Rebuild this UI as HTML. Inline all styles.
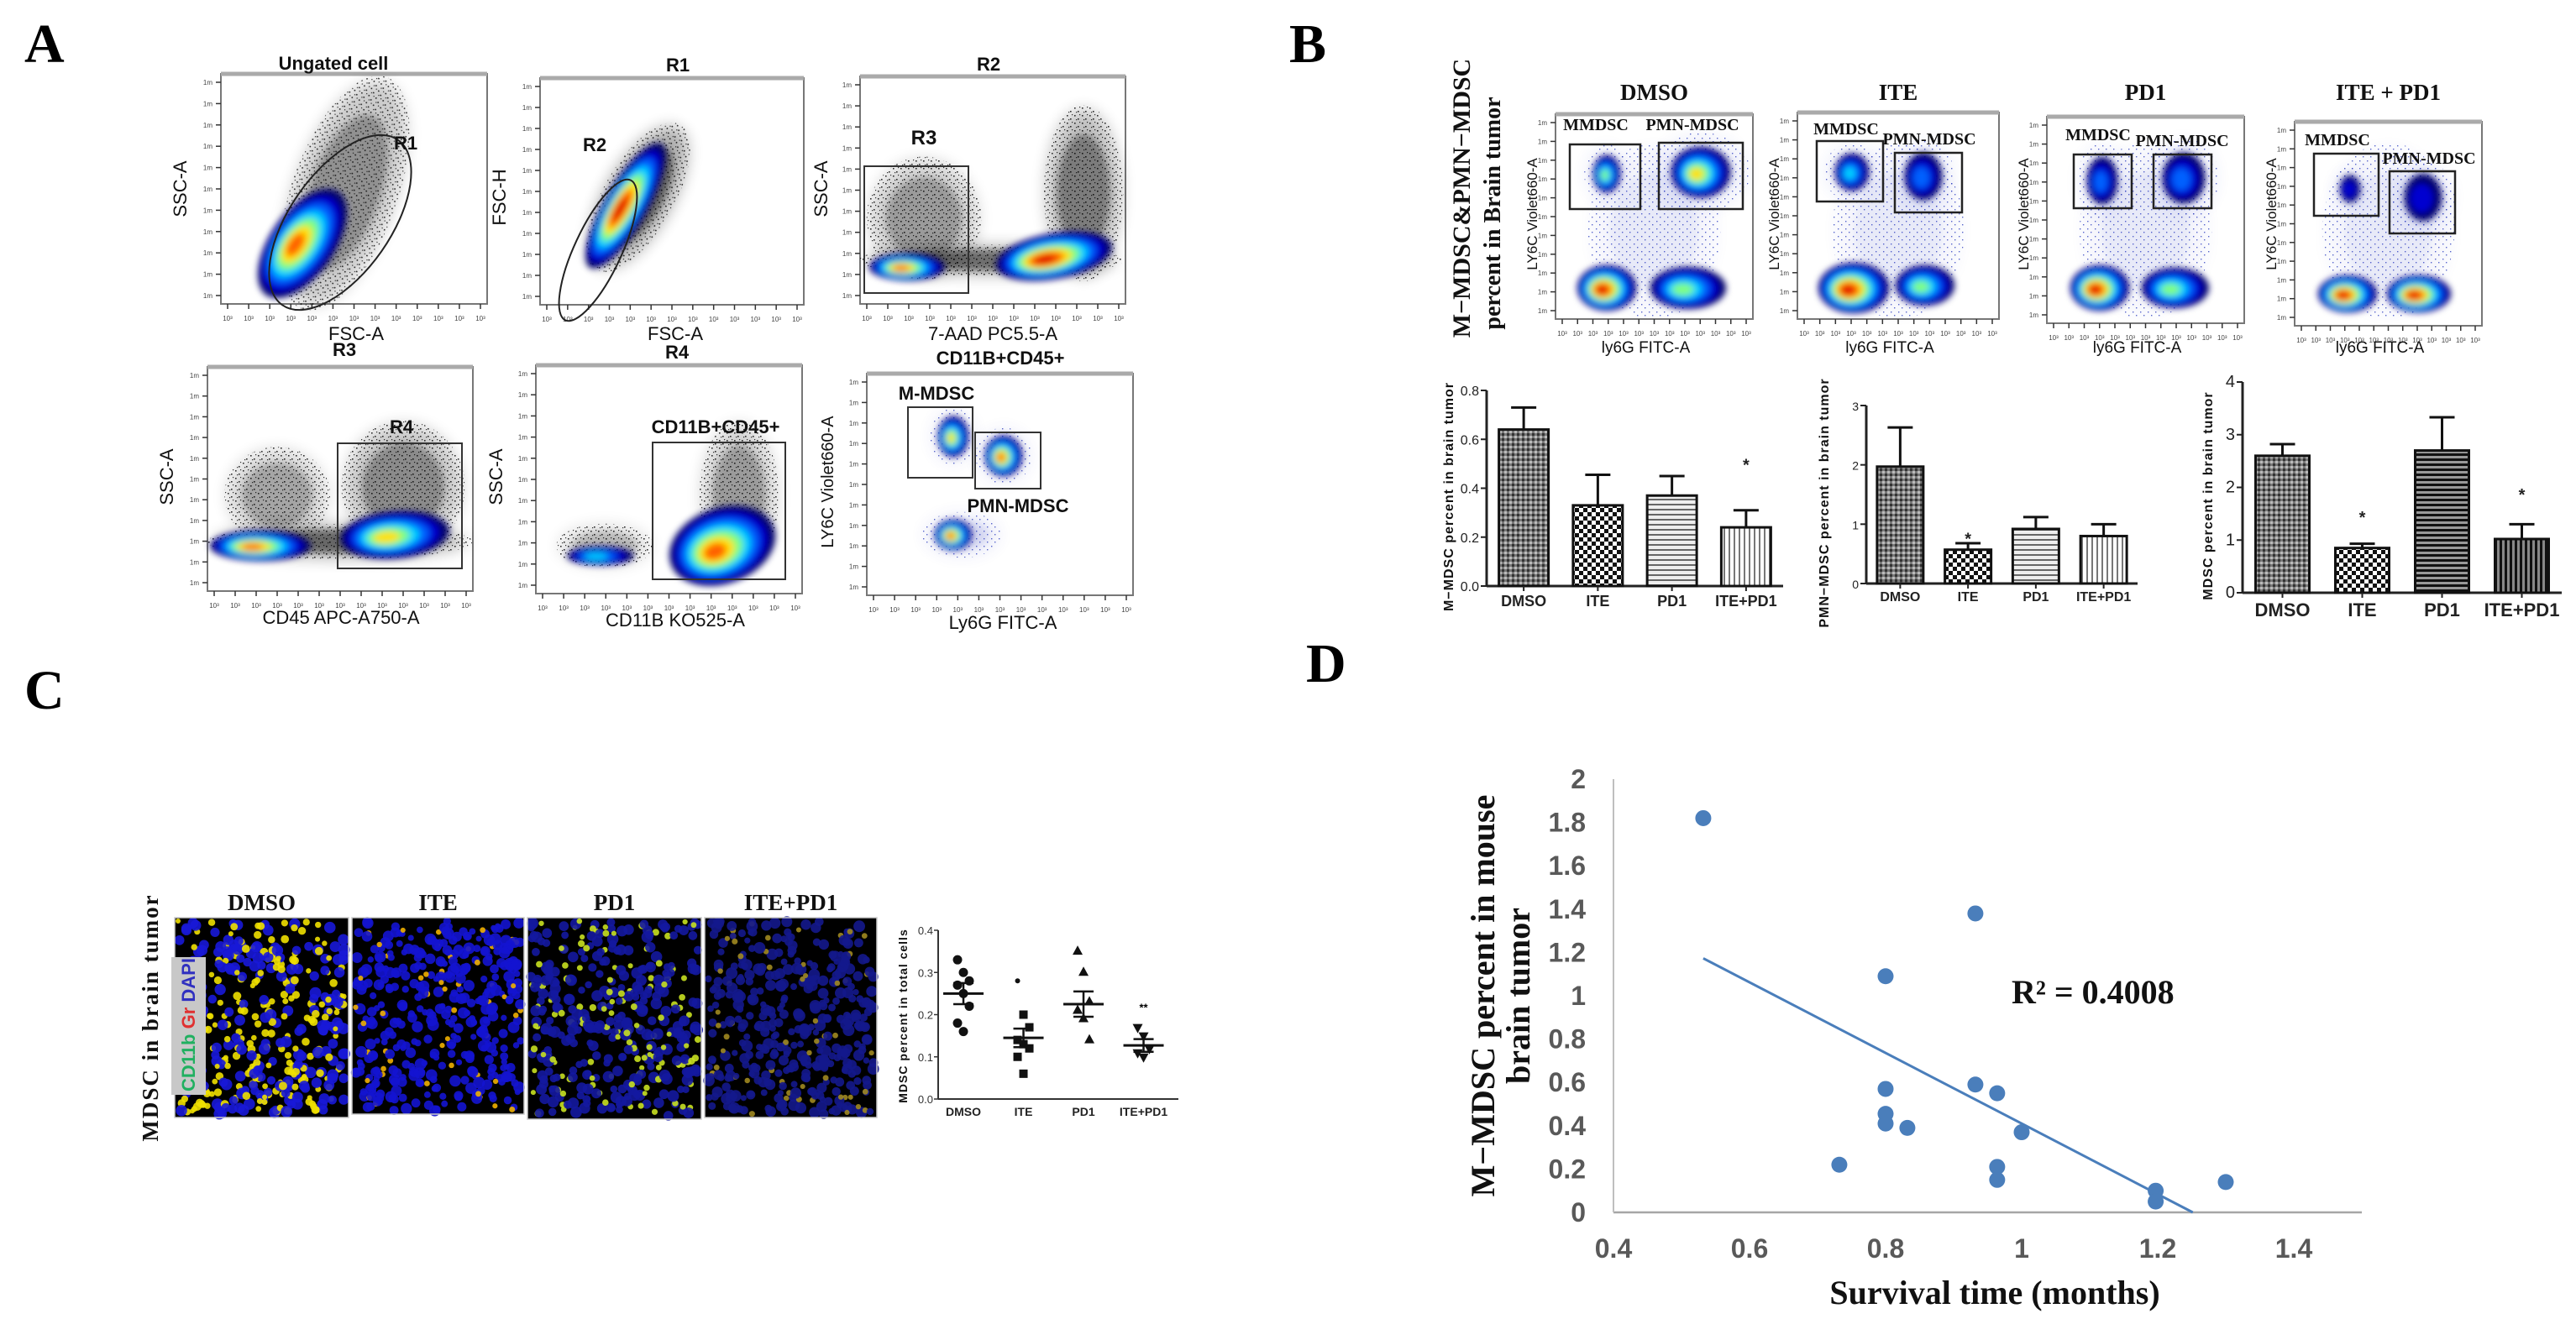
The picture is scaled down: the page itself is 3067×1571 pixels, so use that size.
<!DOCTYPE html>
<html><head><meta charset="utf-8"><title>MDSC figure</title>
<style>
html,body{margin:0;padding:0;background:#fff;}
svg{display:block;}
.pl{font-family:"Liberation Serif",serif;font-weight:bold;}
.sn{font-family:"Liberation Sans Narrow","Liberation Sans",sans-serif;}
.sb{font-family:"Liberation Sans",sans-serif;font-weight:bold;}
</style></head>
<body>
<svg id="fig" width="3067" height="1571" viewBox="0 0 3067 1571" xmlns="http://www.w3.org/2000/svg">
<defs>
<filter id="bl" x="-50%" y="-50%" width="200%" height="200%"><feGaussianBlur stdDeviation="4"/></filter>
<filter id="bl2" x="-50%" y="-50%" width="200%" height="200%"><feGaussianBlur stdDeviation="9"/></filter>
<pattern id="speck" width="9" height="9" patternUnits="userSpaceOnUse"><rect x="1" y="2" width="1.6" height="1.6" fill="#000"/><rect x="5" y="6" width="1.6" height="1.6" fill="#000"/><rect x="7" y="1" width="1.2" height="1.2" fill="#000"/><rect x="3" y="7" width="1.2" height="1.2" fill="#000"/></pattern>
<pattern id="speckB" width="9" height="9" patternUnits="userSpaceOnUse"><rect x="1" y="2" width="1.4" height="1.4" fill="#3040c0"/><rect x="5" y="6" width="1.4" height="1.4" fill="#3040c0"/></pattern>
<pattern id="pDense" width="6" height="6" patternUnits="userSpaceOnUse"><rect width="6" height="6" fill="#777"/><rect x="0" y="0" width="3" height="3" fill="#333"/><rect x="3" y="3" width="3" height="3" fill="#bbb"/></pattern>
<pattern id="pCheck" width="10" height="10" patternUnits="userSpaceOnUse"><rect width="10" height="10" fill="#fff"/><rect width="5" height="5" fill="#111"/><rect x="5" y="5" width="5" height="5" fill="#111"/></pattern>
<pattern id="pHor" width="8" height="6" patternUnits="userSpaceOnUse"><rect width="8" height="6" fill="#eee"/><rect y="0" width="8" height="2" fill="#666"/></pattern>
<pattern id="pHorD" width="8" height="6" patternUnits="userSpaceOnUse"><rect width="8" height="6" fill="#999"/><rect y="0" width="8" height="3" fill="#111"/></pattern>
<pattern id="pVer" width="6" height="8" patternUnits="userSpaceOnUse"><rect width="6" height="8" fill="#fff"/><rect x="0" width="2" height="8" fill="#777"/></pattern>
<pattern id="pVerD" width="6" height="8" patternUnits="userSpaceOnUse"><rect width="6" height="8" fill="#888"/><rect x="0" width="3" height="8" fill="#111"/></pattern>
</defs>

<text class="pl" x="29" y="74" font-size="66">A</text>
<text class="pl" x="1535" y="74" font-size="66">B</text>
<text class="pl" x="29" y="844" font-size="66">C</text>
<text class="pl" x="1555" y="812" font-size="66">D</text>

<g id="panelA"></g>
<g id="panelBflow"></g>
<g id="panelBbars"></g>
<g id="panelC"></g>
<g id="panelD"></g>
</svg>

<script>
// ===== Panel B bar chart data =====
var barCategories = ["DMSO", "ITE", "PD1", "ITE+PD1"];
var mmdscValues = [0.64, 0.33, 0.37, 0.24];
var mmdscErrors = [0.73, 0.455, 0.45, 0.31];
var mmdscTicks = ["0.0", "0.2", "0.4", "0.6", "0.8"];
var pmnValues = [1.97, 0.57, 0.92, 0.80];
var pmnErrors = [2.63, 0.68, 1.12, 1.00];
var pmnTicks = ["0", "1", "2", "3"];
var mdscValues = [2.60, 0.85, 2.70, 1.02];
var mdscErrors = [2.82, 0.93, 3.33, 1.30];
var mdscTicks = ["0", "1", "2", "3", "4"];
// ===== Panel C scatter data =====
var cGroups = ["DMSO", "ITE", "PD1", "ITE+PD1"];
var cDmso = [0.33, 0.30, 0.28, 0.27, 0.25, 0.22, 0.18, 0.16];
var cIte = [0.28, 0.20, 0.17, 0.14, 0.13, 0.12, 0.10, 0.06];
var cPd1 = [0.35, 0.30, 0.23, 0.21, 0.19, 0.14];
var cItePd1 = [0.17, 0.15, 0.12, 0.11, 0.10];
var cMeans = [0.25, 0.145, 0.225, 0.127];
var cSems = [0.025, 0.022, 0.03, 0.015];
var cTicks = ["0.0", "0.1", "0.2", "0.3", "0.4"];
// ===== Panel D scatter data =====
var survivalMonths = [0.532, 0.80, 0.932, 0.80, 0.80, 0.80, 0.832, 0.732, 0.932, 0.964, 1.00, 0.964, 0.964, 1.197, 1.197, 1.30];
var mmdscPercent = [1.82, 1.09, 1.38, 0.57, 0.455, 0.41, 0.39, 0.22, 0.59, 0.55, 0.37, 0.21, 0.15, 0.10, 0.05, 0.14];
var dXTicks = ["0.4", "0.6", "0.8", "1", "1.2", "1.4"];
var dYTicks = ["0", "0.2", "0.4", "0.6", "0.8", "1", "1.2", "1.4", "1.6", "1.8", "2"];
var trendSlope = -1.63;
var trendIntercept = 2.04;

var NS = "http://www.w3.org/2000/svg";
function mk(parent, tag, attrs, txt) {
  var e = document.createElementNS(NS, tag);
  for (var k in attrs) e.setAttribute(k, attrs[k]);
  if (txt !== undefined) e.textContent = txt;
  parent.appendChild(e);
  return e;
}

var jet = ["#00006a", "#0000d0", "#0060ff", "#00d0ff", "#80ff80", "#ffe000", "#ff6000", "#e00000"];
function blob(g, cx, cy, rx, ry, rot, levels) {
  var gg = mk(g, "g", {transform: "rotate(" + rot + " " + cx + " " + cy + ")", filter: "url(#bl)"});
  for (var i = 0; i < levels; i++) {
    var f = 1 - i / (levels + 0.6);
    mk(gg, "ellipse", {cx: cx - (1 - f) * rx * 0.2, cy: cy + (1 - f) * ry * 0.1, rx: rx * f, ry: ry * f, fill: jet[i]});
  }
}
function cloud(g, cx, cy, rx, ry, rot, col, op) {
  var tr = "rotate(" + rot + " " + cx + " " + cy + ")";
  mk(g, "ellipse", {cx: cx, cy: cy, rx: rx, ry: ry, fill: col, opacity: op * 0.35, filter: "url(#bl2)", transform: tr});
  mk(g, "ellipse", {cx: cx, cy: cy, rx: rx * 1.05, ry: ry * 1.05, fill: col === "#000" || col === "#111" ? "url(#speck)" : "url(#speckB)", opacity: 0.8, transform: tr});
  mk(g, "ellipse", {cx: cx, cy: cy, rx: rx * 0.7, ry: ry * 0.7, fill: col, opacity: op * 0.5, filter: "url(#bl)", transform: tr});
}
function plotBox(g, x0, y0, x1, y1) {
  mk(g, "rect", {x: x0, y: y0, width: x1 - x0, height: y1 - y0, fill: "#fff", stroke: "#777", "stroke-width": 2});
  mk(g, "line", {x1: x0, y1: y0, x2: x1, y2: y0, stroke: "#aaa", "stroke-width": 5});
  for (var i = 0; i <= 12; i++) {
    var xx = x0 + 8 + i * (x1 - x0 - 16) / 12;
    mk(g, "line", {x1: xx, y1: y1, x2: xx, y2: y1 + 6, stroke: "#333", "stroke-width": 1.5});
    mk(g, "text", {x: xx, y: y1 + 20, "font-size": 8, "text-anchor": "middle", fill: "#444", "class": "sn"}, "10³");
  }
  for (var j = 0; j <= 10; j++) {
    var yy = y0 + 10 + j * (y1 - y0 - 20) / 10;
    mk(g, "line", {x1: x0 - 6, y1: yy, x2: x0, y2: yy, stroke: "#333", "stroke-width": 1.5});
    mk(g, "text", {x: x0 - 10, y: yy + 3, "font-size": 8, "text-anchor": "end", fill: "#444", "class": "sn"}, "1m");
  }
}
function lbl(g, x, y, s, size, cls, rot, anchor) {
  var a = {x: x, y: y, "font-size": size, "text-anchor": anchor || "middle", "class": cls, fill: "#111"};
  if (rot) a.transform = "rotate(" + rot + " " + x + " " + y + ")";
  return mk(g, "text", a, s);
}

// ---------- Panel A ----------
var A = document.getElementById("panelA");
var p1 = mk(A, "g", {});


plotBox(p1, 263, 88, 580, 362);
cloud(p1, 410, 230, 60, 140, 20, "#111", 0.6);
blob(p1, 360, 290, 38, 75, 35, 7);
mk(p1, "ellipse", {cx: 405, cy: 265, rx: 60, ry: 120, fill: "none", stroke: "#222", "stroke-width": 2, transform: "rotate(35 405 265)"});
lbl(p1, 483, 178, "R1", 22, "sb");
lbl(p1, 397, 83, "Ungated cell", 22, "sb");
lbl(p1, 424, 405, "FSC-A", 22, "sn");
lbl(p1, 222, 225, "SSC-A", 22, "sn", -90);

var p2 = mk(A, "g", {});


plotBox(p2, 643, 93, 957, 363);
cloud(p2, 760, 235, 40, 95, 30, "#000", 0.9);
blob(p2, 745, 245, 25, 85, 30, 8);
mk(p2, "ellipse", {cx: 712, cy: 298, rx: 28, ry: 92, fill: "none", stroke: "#222", "stroke-width": 2, transform: "rotate(25 712 298)"});
lbl(p2, 708, 180, "R2", 22, "sb");
lbl(p2, 807, 85, "R1", 22, "sb");
lbl(p2, 804, 405, "FSC-A", 22, "sn");
lbl(p2, 602, 235, "FSC-H", 22, "sn", -90);

var p3 = mk(A, "g", {});


plotBox(p3, 1024, 91, 1340, 362);
cloud(p3, 1100, 260, 65, 70, 0, "#000", 0.5);
cloud(p3, 1290, 230, 45, 100, 0, "#000", 0.7);
cloud(p3, 1180, 310, 150, 18, 0, "#000", 0.8);
blob(p3, 1080, 318, 45, 16, 0, 7);
blob(p3, 1255, 305, 70, 27, -10, 8);
mk(p3, "rect", {x: 1029, y: 198, width: 124, height: 151, fill: "none", stroke: "#333", "stroke-width": 2});
lbl(p3, 1100, 172, "R3", 24, "sb");
lbl(p3, 1177, 84, "R2", 22, "sb");
lbl(p3, 1182, 405, "7-AAD PC5.5-A", 22, "sn");
lbl(p3, 985, 225, "SSC-A", 22, "sn", -90);

var p4 = mk(A, "g", {});


plotBox(p4, 247, 437, 563, 704);
cloud(p4, 330, 590, 60, 55, 0, "#000", 0.45);
cloud(p4, 480, 580, 70, 75, 0, "#000", 0.6);
cloud(p4, 405, 645, 150, 20, 0, "#000", 0.85);
blob(p4, 310, 650, 60, 18, 0, 7);
blob(p4, 470, 637, 65, 28, -5, 6);
mk(p4, "rect", {x: 402, y: 528, width: 148, height: 149, fill: "none", stroke: "#333", "stroke-width": 2});
lbl(p4, 478, 516, "R4", 22, "sb");
lbl(p4, 410, 424, "R3", 22, "sb");
lbl(p4, 406, 743, "CD45 APC-A750-A", 22, "sn");
lbl(p4, 206, 568, "SSC-A", 22, "sn", -90);

var p5 = mk(A, "g", {});


plotBox(p5, 638, 435, 955, 707);
cloud(p5, 880, 590, 45, 85, 0, "#000", 0.5);
cloud(p5, 720, 650, 55, 25, 0, "#000", 0.35);
blob(p5, 715, 662, 40, 11, 0, 4);
blob(p5, 860, 650, 65, 45, -20, 7);
mk(p5, "rect", {x: 777, y: 527, width: 158, height: 163, fill: "none", stroke: "#333", "stroke-width": 2});
lbl(p5, 852, 516, "CD11B+CD45+", 22, "sb");
lbl(p5, 806, 427, "R4", 22, "sb");
lbl(p5, 804, 746, "CD11B KO525-A", 22, "sn");
lbl(p5, 598, 568, "SSC-A", 22, "sn", -90);

var p6 = mk(A, "g", {});


plotBox(p6, 1032, 445, 1349, 709);
cloud(p6, 1135, 520, 26, 32, 0, "#3040c0", 0.25);
cloud(p6, 1195, 543, 32, 32, 0, "#3040c0", 0.25);
cloud(p6, 1145, 637, 45, 26, 0, "#3040c0", 0.25);
blob(p6, 1135, 520, 18, 24, 0, 6);
blob(p6, 1195, 543, 22, 24, 0, 7);
blob(p6, 1135, 637, 22, 18, 0, 7);
mk(p6, "rect", {x: 1081, y: 485, width: 77, height: 84, fill: "none", stroke: "#333", "stroke-width": 2});
mk(p6, "rect", {x: 1161, y: 515, width: 78, height: 67, fill: "none", stroke: "#333", "stroke-width": 2});
lbl(p6, 1115, 476, "M-MDSC", 22, "sb");
lbl(p6, 1212, 610, "PMN-MDSC", 22, "sb");
lbl(p6, 1191, 434, "CD11B+CD45+", 22, "sb");
lbl(p6, 1194, 749, "Ly6G FITC-A", 22, "sn");
lbl(p6, 992, 574, "LY6C Violet660-A", 20, "sn", -90);

// ---------- Panel B flow ----------
var B = document.getElementById("panelBflow");
lbl(B, 1750, 236, "M\u2212MDSC&PMN\u2212MDSC", 30, "pl", -90);
lbl(B, 1786, 254, "percent in Brain tumor", 28, "pl", -90);
var bPlots = [
  {t: "DMSO", x0: 1852, x1: 2087, y0: 136, y1: 380, g1: [1869,172,1953,249], g2: [1975,170,2075,249], top: [[1913,207,16,22,5],[2025,205,35,30,6]], bot: [[1913,343,35,27,8],[2010,343,45,25,5]], l1: [1900,155], l2: [2015,155]},
  {t: "ITE", x0: 2140, x1: 2380, y0: 134, y1: 380, g1: [2163,168,2242,240], g2: [2256,182,2336,253], top: [[2205,205,20,22,4],[2290,210,22,28,3]], bot: [[2207,343,42,30,8],[2292,340,35,24,5]], l1: [2198,160], l2: [2297,172]},
  {t: "PD1", x0: 2437, x1: 2672, y0: 139, y1: 385, g1: [2469,184,2538,248], g2: [2564,184,2633,248], top: [[2503,215,18,28,3],[2600,212,25,30,3]], bot: [[2500,343,35,27,8],[2590,343,40,24,5]], l1: [2498,167], l2: [2598,174]},
  {t: "ITE + PD1", x0: 2732, x1: 2955, y0: 145, y1: 388, g1: [2755,183,2832,257], g2: [2845,204,2923,278], top: [[2798,225,12,16,2],[2885,235,22,28,2]], bot: [[2795,350,35,22,8],[2880,350,38,22,8]], l1: [2783,173], l2: [2892,195]}
];
bPlots.forEach(function (p, i) {
  var g = mk(B, "g", {});
  
  
  plotBox(g, p.x0, p.y0, p.x1, p.y1);
  cloud(g, (p.x0 + p.x1) / 2, 275, 75, 100, 0, "#3040c0", 0.12);
  p.top.forEach(function (b) { cloud(g, b[0], b[1], b[2] * 1.6, b[3] * 1.5, 0, "#3040c0", 0.2); blob(g, b[0], b[1], b[2], b[3], 0, b[4]); });
  p.bot.forEach(function (b) { blob(g, b[0], b[1], b[2], b[3], 0, b[4]); });
  mk(g, "rect", {x: p.g1[0], y: p.g1[1], width: p.g1[2] - p.g1[0], height: p.g1[3] - p.g1[1], fill: "none", stroke: "#222", "stroke-width": 2.5});
  mk(g, "rect", {x: p.g2[0], y: p.g2[1], width: p.g2[2] - p.g2[0], height: p.g2[3] - p.g2[1], fill: "none", stroke: "#222", "stroke-width": 2.5});
  lbl(g, p.l1[0], p.l1[1], "MMDSC", 20, "pl");
  lbl(g, p.l2[0], p.l2[1], "PMN-MDSC", 20, "pl");
  lbl(g, (p.x0 + p.x1) / 2, 119, p.t, 27, "pl");
  lbl(g, (p.x0 + p.x1) / 2 - 10, 420, "ly6G FITC-A", 19, "sn");
  lbl(g, p.x0 - 22, 255, "LY6C Violet660-A", 17, "sn", -90);
});

// ---------- Panel B bars ----------
var BB = document.getElementById("panelBbars");
function barChart(cfg) {
  var g = mk(BB, "g", {});
  
  
  var ys = function (v) { return cfg.y0 - v / cfg.max * (cfg.y0 - cfg.yTop); };
  mk(g, "line", {x1: cfg.ax, y1: cfg.yTop, x2: cfg.ax, y2: cfg.y0, stroke: "#222", "stroke-width": 3});
  mk(g, "line", {x1: cfg.ax, y1: cfg.y0, x2: cfg.axEnd, y2: cfg.y0, stroke: "#222", "stroke-width": 3});
  cfg.ticks.forEach(function (t, i) {
    var y = ys(i * cfg.max / (cfg.ticks.length - 1));
    mk(g, "line", {x1: cfg.ax - 7, y1: y, x2: cfg.ax, y2: y, stroke: "#222", "stroke-width": 2});
    var tl = mk(g, "text", {x: cfg.ax - 9, y: y + 6, "font-size": cfg.fs, "text-anchor": "end", "class": "sn", fill: "#222"}, t);
    
  });
  var pw = (cfg.axEnd - cfg.ax) / cfg.cats.length;
  cfg.cats.forEach(function (c, i) {
    var cx = cfg.ax + pw * (i + 0.5);
    var bx = cx - cfg.bw / 2;
    var top = ys(cfg.vals[i]);
    var et = ys(cfg.errs[i]);
    var el = mk(g, "line", {x1: cx, y1: top, x2: cx, y2: et, stroke: "#111", "stroke-width": 3});
    
    mk(g, "line", {x1: cx - 15, y1: et, x2: cx + 15, y2: et, stroke: "#111", "stroke-width": 3});
    var r = mk(g, "rect", {x: bx, y: top, width: cfg.bw, height: cfg.y0 - top, fill: "url(#" + cfg.pats[i] + ")", stroke: "#111", "stroke-width": 3});
    
    
    mk(g, "line", {x1: cx, y1: cfg.y0, x2: cx, y2: cfg.y0 + 6, stroke: "#222", "stroke-width": 2});
    var xl = mk(g, "text", {x: cx, y: cfg.labY, "font-size": cfg.fs + 2, "text-anchor": "middle", "class": "sb", fill: "#222"}, c);
    
    if (cfg.stars[i]) {
      var st = mk(g, "text", {x: cx, y: ys(cfg.stars[i]) + 8, "font-size": 20, "text-anchor": "middle", "class": "sb", fill: "#222"}, "*");
      
    }
  });
  var tt = lbl(g, cfg.titleX, (cfg.yTop + cfg.y0) / 2 + 10, cfg.title, 16, "sb", -90);
  tt.setAttribute("letter-spacing", "1");
}
barChart({name: "mmdsc-bar-chart", cats: barCategories, vals: mmdscValues, errs: mmdscErrors, ticks: mmdscTicks, max: 0.8,
  ax: 1770, axEnd: 2123, y0: 698, yTop: 465, bw: 59, fs: 16, labY: 722, pats: ["pDense", "pCheck", "pHor", "pVer"],
  stars: [0, 0, 0, 0.5], titleX: 1730, title: "M\u2212MDSC percent in brain tumor"});
barChart({name: "pmn-mdsc-bar-chart", cats: barCategories, vals: pmnValues, errs: pmnErrors, ticks: pmnTicks, max: 3,
  ax: 2222, axEnd: 2545, y0: 695, yTop: 483, bw: 55, fs: 14, labY: 716, pats: ["pDense", "pCheck", "pHor", "pVer"],
  stars: [0, 0.77, 0, 0], titleX: 2177, title: "PMN\u2212MDSC percent in brain tumor"});
barChart({name: "mdsc-bar-chart", cats: barCategories, vals: mdscValues, errs: mdscErrors, ticks: mdscTicks, max: 4,
  ax: 2670, axEnd: 3050, y0: 706, yTop: 455, bw: 64, fs: 20, labY: 734, pats: ["pDense", "pCheck", "pHorD", "pVerD"],
  stars: [0, 1.45, 0, 1.88], titleX: 2634, title: "MDSC percent in brain tumor"});

// ---------- Panel C ----------
var C = document.getElementById("panelC");
var imgs = [
  {t: "DMSO", x0: 208, x1: 415, y0: 1093, y1: 1331, base: "#1818d8", spot: "#f0e000", n: 0.5},
  {t: "ITE", x0: 419, x1: 624, y0: 1093, y1: 1327, base: "#1414d0", spot: "#f0b000", n: 0.12},
  {t: "PD1", x0: 628, x1: 835, y0: 1093, y1: 1333, base: "#1418a0", spot: "#c8e020", n: 0.3},
  {t: "ITE+PD1", x0: 839, x1: 1044, y0: 1093, y1: 1331, base: "#14188c", spot: "#a08820", n: 0.14}
];
function hash(a) { var s = Math.sin(a * 12.9898) * 43758.5453; return s - Math.floor(s); }
imgs.forEach(function (im, k) {
  var g = mk(C, "g", {});
  
  
  mk(g, "rect", {x: im.x0, y: im.y0, width: im.x1 - im.x0, height: im.y1 - im.y0, fill: "#000"});
  var w = im.x1 - im.x0, h = im.y1 - im.y0;
  for (var n = 0; n < 420; n++) {
    var hx = hash(n * 3.1 + k * 101), hy = hash(n * 7.7 + k * 57), hs = hash(n * 1.3 + k * 13);
    var fill = hs < im.n ? im.spot : im.base;
    mk(g, "circle", {cx: im.x0 + 4 + hx * (w - 8), cy: im.y0 + 4 + hy * (h - 8), r: 3 + hs * 4, fill: fill, opacity: 0.9});
  }
  mk(g, "rect", {x: im.x0, y: im.y0, width: w, height: h, fill: "none", stroke: "#ccc", "stroke-width": 1.5});
  lbl(g, (im.x0 + im.x1) / 2, 1084, im.t, 27, "pl");
});
var leg = mk(C, "g", {});


mk(leg, "rect", {x: 204, y: 1140, width: 41, height: 164, fill: "#c8c8c8"});
var lt = mk(leg, "text", {x: 232, y: 1300, "font-size": 22, "class": "sb", transform: "rotate(-90 232 1300)", "font-weight": "normal"});
mk(lt, "tspan", {fill: "#20b060"}, "CD11b ");
mk(lt, "tspan", {fill: "#e03030"}, "Gr ");
mk(lt, "tspan", {fill: "#3030c0"}, "DAPI");
lbl(C, 188, 1212, "MDSC in brain tumor", 27, "pl", -90).setAttribute("letter-spacing", "2");

var cg = mk(C, "g", {});


var cAx = 1117, cY0 = 1309, cYT = 1108, cEnd = 1403, cMax = 0.4;
function cy(v) { return cY0 - v / cMax * (cY0 - cYT); }
mk(cg, "line", {x1: cAx, y1: cYT, x2: cAx, y2: cY0, stroke: "#333", "stroke-width": 2});
mk(cg, "line", {x1: cAx, y1: cY0, x2: cEnd, y2: cY0, stroke: "#333", "stroke-width": 2});
cTicks.forEach(function (t, i) {
  var y = cy(i * 0.1);
  mk(cg, "line", {x1: cAx - 5, y1: y, x2: cAx, y2: y, stroke: "#333", "stroke-width": 1.5});
  var tl = mk(cg, "text", {x: cAx - 6, y: y + 5, "font-size": 13, "text-anchor": "end", "class": "sn", fill: "#333"}, t);
  
});
var cSeries = [cDmso, cIte, cPd1, cItePd1];
var cStep = (cEnd - cAx) / cGroups.length;
cGroups.forEach(function (gname, i) {
  var cx = cAx + cStep * (i + 0.42);
  cSeries[i].forEach(function (v, j) {
    var dx = ((j % 3) - 1) * 7;
    var m;
    if (i === 0 || i === 1 && j === 0) m = mk(cg, "circle", {cx: cx + dx, cy: cy(v), r: i === 1 ? 3 : 5.5, fill: "#111"});
    else if (i === 1) m = mk(cg, "rect", {x: cx + dx - 5, y: cy(v) - 5, width: 10, height: 10, fill: "#111"});
    else if (i === 2) m = mk(cg, "path", {d: "M" + (cx + dx) + " " + (cy(v) - 7) + " l6 11 h-12 z", fill: "#111"});
    else m = mk(cg, "path", {d: "M" + (cx + dx) + " " + (cy(v) + 7) + " l6 -11 h-12 z", fill: "#111"});
    
  });
  var my = cy(cMeans[i]);
  var ml = mk(cg, "line", {x1: cx - 24, y1: my, x2: cx + 24, y2: my, stroke: "#111", "stroke-width": 3});
  
  mk(cg, "line", {x1: cx, y1: cy(cMeans[i] - cSems[i]), x2: cx, y2: cy(cMeans[i] + cSems[i]), stroke: "#111", "stroke-width": 2.5});
  mk(cg, "line", {x1: cx - 12, y1: cy(cMeans[i] - cSems[i]), x2: cx + 12, y2: cy(cMeans[i] - cSems[i]), stroke: "#111", "stroke-width": 2.5});
  mk(cg, "line", {x1: cx - 12, y1: cy(cMeans[i] + cSems[i]), x2: cx + 12, y2: cy(cMeans[i] + cSems[i]), stroke: "#111", "stroke-width": 2.5});
  var xl = mk(cg, "text", {x: cx, y: 1329, "font-size": 14, "text-anchor": "middle", "class": "sb", fill: "#222"}, gname);
  
});
mk(cg, "text", {x: cAx + cStep * 3.42, y: cy(0.22) + 6, "font-size": 13, "text-anchor": "middle", "class": "sb"}, "**");
lbl(cg, 1080, 1210, "MDSC percent in total cells", 14, "sb", -90).setAttribute("letter-spacing", "1");

// ---------- Panel D ----------
var D = document.getElementById("panelD");
var dx0 = 1921, dxUnit = 810, dy0 = 1444, dyUnit = 258;
function xs(v) { return dx0 + (v - 0.4) * dxUnit; }
function ys(v) { return dy0 - v * dyUnit; }
var ax = mk(D, "g", {});


mk(ax, "line", {x1: xs(0.4), y1: ys(0), x2: xs(1.5), y2: ys(0), stroke: "#a6a6a6", "stroke-width": 2.5});
mk(ax, "line", {x1: xs(0.4), y1: ys(0), x2: xs(0.4), y2: ys(2), stroke: "#bfbfbf", "stroke-width": 2});
dXTicks.forEach(function (t) {
  var tl = mk(ax, "text", {x: xs(parseFloat(t)), y: 1498, "font-size": 32, "text-anchor": "middle", "class": "sb", fill: "#595959"}, t);
  
});
dYTicks.forEach(function (t) {
  var tl = mk(ax, "text", {x: 1888, y: ys(parseFloat(t)) + 11, "font-size": 32, "text-anchor": "end", "class": "sb", fill: "#595959"}, t);
  
});
var xt = lbl(D, 2375, 1553, "Survival time (months)", 40, "pl");

var yt1 = lbl(D, 1779, 1186, "M\u2212MDSC percent in mouse", 40, "pl", -90);

var yt2 = lbl(D, 1821, 1186, "brain tumor", 40, "pl", -90);

var trend = mk(D, "line", {x1: xs(0.532), y1: ys(trendIntercept + trendSlope * 0.532), x2: xs(-trendIntercept / trendSlope), y2: ys(0), stroke: "#4a7ebb", "stroke-width": 3});


survivalMonths.forEach(function (v, i) {
  var c = mk(D, "circle", {cx: xs(v), cy: ys(mmdscPercent[i]), r: 9.5, fill: "#4a7ebb"});
  
  
});
var r2 = mk(D, "text", {x: 2395, y: 1195, "font-size": 40, "class": "pl", fill: "#111"}, "R\u00b2 = 0.4008");


</script>
</body></html>
